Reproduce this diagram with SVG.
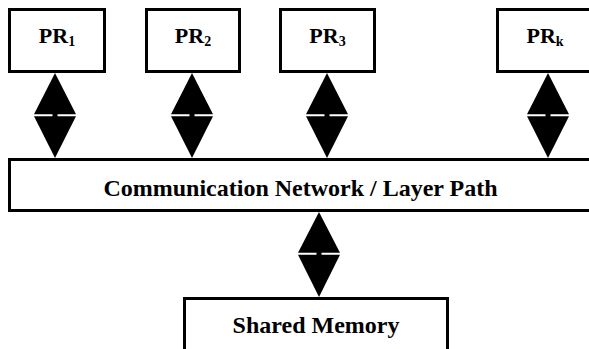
<svg xmlns="http://www.w3.org/2000/svg" width="589" height="349" viewBox="0 0 589 349">
<style>
.box{fill:#fff;stroke:#000;stroke-width:3}
.t{font-family:"Liberation Serif","Times New Roman",serif;font-weight:bold;fill:#000;text-anchor:middle}
.pr{font-size:22px}
.sub{font-size:14px}
.big{font-size:24px}
.arr{fill:#000}
</style>
<rect width="589" height="349" fill="#fff"/>
<g id="connectors">
<g id="c1" transform="translate(55,0)">
<rect class="arr" x="-2.5" y="110" width="5" height="10"/>
<polygon class="arr" points="0,73 21,114.3 -21,114.3"/>
<polygon class="arr" points="0,158 21,116.2 -21,116.2"/>
</g>
<g id="c2" transform="translate(192,0)">
<rect class="arr" x="-2.5" y="110" width="5" height="10"/>
<polygon class="arr" points="0,73 21,114.3 -21,114.3"/>
<polygon class="arr" points="0,158 21,116.2 -21,116.2"/>
</g>
<g id="c3" transform="translate(327,0)">
<rect class="arr" x="-2.5" y="110" width="5" height="10"/>
<polygon class="arr" points="0,73 21,114.3 -21,114.3"/>
<polygon class="arr" points="0,158 21,116.2 -21,116.2"/>
</g>
<g id="ck" transform="translate(548,0)">
<rect class="arr" x="-2.5" y="110" width="5" height="10"/>
<polygon class="arr" points="0,73 21,114.3 -21,114.3"/>
<polygon class="arr" points="0,158 21,116.2 -21,116.2"/>
</g>
<g id="cm" transform="translate(319,0)">
<rect class="arr" x="-2.5" y="249" width="5" height="10"/>
<polygon class="arr" points="0,212 21,252.8 -21,252.8"/>
<polygon class="arr" points="0,297 21,254.7 -21,254.7"/>
</g>
</g>
<g id="pr1">
<rect class="box" x="9.5" y="9.5" width="95" height="62"/>
<text class="t pr" x="57" y="43">PR<tspan class="sub" dy="3">1</tspan></text>
</g>
<g id="pr2">
<rect class="box" x="146.5" y="9.5" width="93" height="62"/>
<text class="t pr" x="193" y="43">PR<tspan class="sub" dy="3">2</tspan></text>
</g>
<g id="pr3">
<rect class="box" x="280.5" y="9.5" width="94" height="62"/>
<text class="t pr" x="327.5" y="43">PR<tspan class="sub" dy="3">3</tspan></text>
</g>
<g id="prk">
<rect class="box" x="497.5" y="9.5" width="95" height="62"/>
<text class="t pr" x="545" y="43">PR<tspan class="sub" dy="3">k</tspan></text>
</g>
<g id="network">
<rect class="box" x="9.5" y="159.5" width="590" height="51"/>
<text class="t big" x="300.5" y="196">Communication Network / Layer Path</text>
</g>
<g id="memory">
<rect class="box" x="184.5" y="298.5" width="263" height="60"/>
<text class="t big" x="316" y="333">Shared Memory</text>
</g>
</svg>
